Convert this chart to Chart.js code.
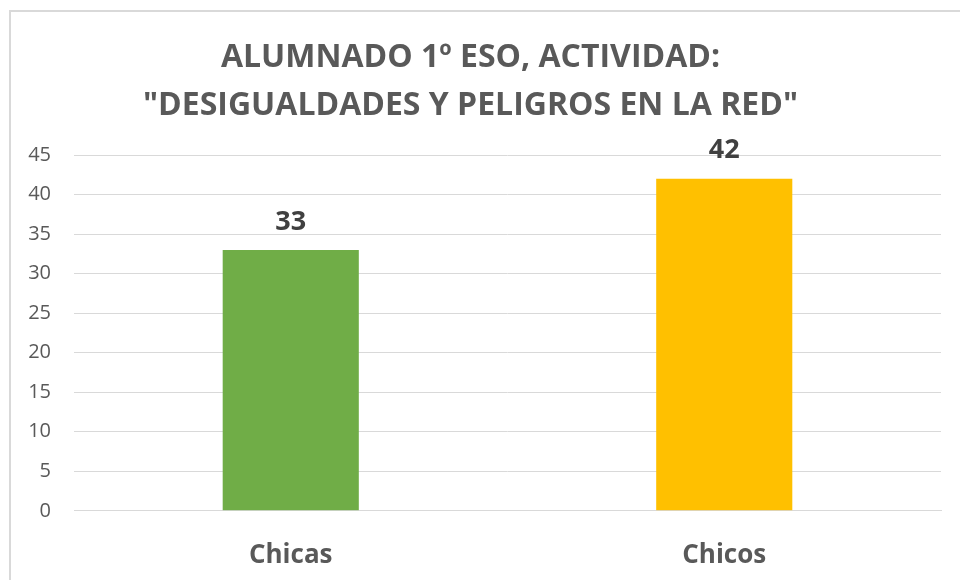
<!DOCTYPE html>
<html>
<head>
<meta charset="utf-8">
<script src="https://cdn.jsdelivr.net/npm/chart.js@4/dist/chart.umd.min.js"></script>
<style>
    html, body { margin: 0; padding: 0; background: #fff; overflow: hidden; }
    .frame {
        position: absolute;
        left: 9px;
        top: 10px;
        width: 1100px;
        height: 800px;
        border: 2px solid #d9d9d9;
    }
    .wrap { position: absolute; left: 0; top: 0; width: 960px; height: 600px; }
</style>
</head>
<body>
<div class="frame"></div>
<div class="wrap"><canvas id="alumnadoChart" width="960" height="600"></canvas></div>
<script>
const categories = ['Chicas', 'Chicos'];
const alumnos = [33, 42];
const barColors = ['#70AD47', '#FFC000'];
const titleLines = ['ALUMNADO 1º ESO, ACTIVIDAD:', '"DESIGUALDADES Y PELIGROS EN LA RED"'];

const fontFamily = '"Open Sans", "Noto Sans", sans-serif';

// etiquetas de valor encima de cada barra
const valueLabels = {
    id: 'valueLabels',
    afterDatasetsDraw(chart) {
        const ctx = chart.ctx;
        const meta = chart.getDatasetMeta(0);
        ctx.save();
        ctx.font = 'bold 27px ' + fontFamily;
        ctx.fillStyle = '#404040';
        ctx.textAlign = 'center';
        ctx.textBaseline = 'middle';
        meta.data.forEach((bar, i) => {
            ctx.fillText(String(alumnos[i]), bar.x, bar.y - 28);
        });
        ctx.restore();
    }
};

const ctx = document.getElementById('alumnadoChart').getContext('2d');

new Chart(ctx, {
    type: 'bar',
    data: {
        labels: categories,
        datasets: [{
            data: alumnos,
            backgroundColor: barColors,
            borderWidth: 0,
            categoryPercentage: 1,
            barPercentage: 0.314
        }]
    },
    options: {
        responsive: false,
        animation: false,
        layout: {
            padding: { top: 0, bottom: 8, left: 0, right: 19 }
        },
        scales: {
            x: {
                grid: { display: false },
                border: { display: true, color: '#d9d9d9', width: 1 },
                ticks: {
                    color: '#595959',
                    padding: 21,
                    font: { family: fontFamily, size: 26, weight: 'bold' }
                }
            },
            y: {
                min: 0,
                max: 45,
                afterFit(scale) { scale.width = 74; },
                grid: { color: '#d9d9d9', lineWidth: 1, drawTicks: false },
                border: { display: false },
                ticks: {
                    stepSize: 5,
                    color: '#595959',
                    padding: 23,
                    font: { family: fontFamily, size: 20 }
                }
            }
        },
        plugins: {
            legend: { display: false },
            tooltip: { enabled: false },
            title: {
                display: true,
                text: titleLines,
                color: '#595959',
                font: { family: fontFamily, size: 32, weight: 'bold', lineHeight: 1.5 },
                padding: { top: 34, bottom: 25 }
            }
        }
    },
    plugins: [valueLabels]
});
</script>
</body>
</html>
